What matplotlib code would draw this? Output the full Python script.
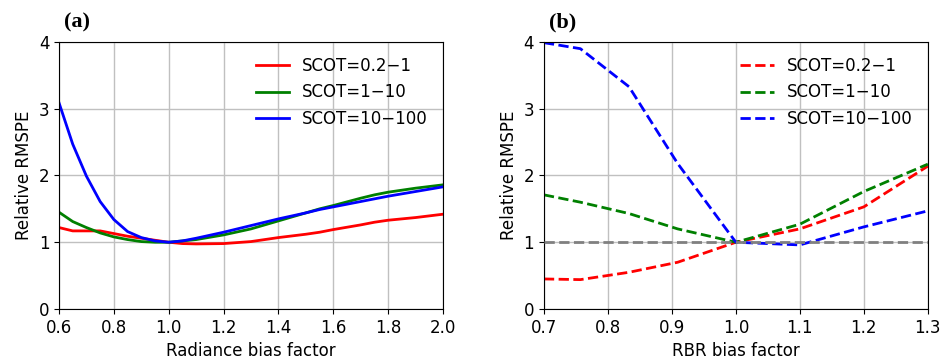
import matplotlib.pyplot as plt

# Panel (a): radiance bias factor
rad_bias = [0.6, 0.65, 0.7, 0.75, 0.8, 0.85, 0.9, 0.95, 1.0, 1.05, 1.1,
            1.2, 1.3, 1.4, 1.5, 1.55, 1.6, 1.7, 1.75, 1.8, 1.9, 2.0]
rad_low = [1.22, 1.17, 1.17, 1.17, 1.13, 1.09, 1.06, 1.03, 1.0, 0.98, 0.975,
           0.98, 1.01, 1.07, 1.12, 1.15, 1.19, 1.26, 1.30, 1.33, 1.37, 1.42]
rad_mid = [1.45, 1.31, 1.22, 1.14, 1.08, 1.04, 1.01, 1.0, 1.0, 1.02, 1.04,
           1.11, 1.20, 1.32, 1.44, 1.50, 1.55, 1.66, 1.71, 1.75, 1.81, 1.86]
rad_high = [3.09, 2.47, 1.99, 1.61, 1.34, 1.16, 1.07, 1.02, 1.0, 1.02, 1.06,
            1.15, 1.25, 1.35, 1.44, 1.49, 1.53, 1.61, 1.65, 1.69, 1.76, 1.83]

# Panel (b): RBR bias factor
rbr_bias = [0.7, 0.757, 0.833, 0.909, 1.0, 1.1, 1.2, 1.3]
rbr_low = [0.45, 0.44, 0.55, 0.70, 1.0, 1.20, 1.53, 2.14]
rbr_mid = [1.71, 1.60, 1.43, 1.20, 1.0, 1.27, 1.76, 2.17]
rbr_high = [3.99, 3.90, 3.33, 2.18, 1.0, 0.96, 1.23, 1.47]

labels = ['SCOT=0.2\u22121', 'SCOT=1\u221210', 'SCOT=10\u2212100']
colors = ['red', 'green', 'blue']

fig = plt.figure(figsize=(9.41, 3.59), dpi=100)
ax1 = fig.add_axes([0.0627, 0.1393, 0.4081, 0.7437])
ax2 = fig.add_axes([0.578, 0.1393, 0.408, 0.7437])

for ys, c, lab in zip([rad_low, rad_mid, rad_high], colors, labels):
    ax1.plot(rad_bias, ys, color=c, lw=2, label=lab)

ax2.axhline(1.0, color='gray', lw=2, ls='--', zorder=3)
for ys, c, lab in zip([rbr_low, rbr_mid, rbr_high], colors, labels):
    ax2.plot(rbr_bias, ys, color=c, lw=2, ls='--', label=lab)

ax1.set_xlim(0.6, 2.0)
ax1.set_xticks([0.6, 0.8, 1.0, 1.2, 1.4, 1.6, 1.8, 2.0])
ax1.set_xlabel('Radiance bias factor', fontsize=12, labelpad=4)
ax2.set_xlim(0.7, 1.3)
ax2.set_xticks([0.7, 0.8, 0.9, 1.0, 1.1, 1.2, 1.3])
ax2.set_xlabel('RBR bias factor', fontsize=12, labelpad=4)

for ax, tag in zip([ax1, ax2], ['(a)', '(b)']):
    ax.set_ylim(0, 4)
    ax.set_yticks([0, 1, 2, 3, 4])
    ax.set_ylabel('Relative RMSPE', fontsize=12)
    ax.tick_params(labelsize=12)
    ax.grid(True, color='#c0c0c0', lw=1)
    ax.set_axisbelow(True)
    ax.legend(loc='upper right', frameon=False, fontsize=12)
    ax.text(0.013, 1.035, tag, transform=ax.transAxes, fontsize=16,
            fontweight='bold', family='Liberation Serif', va='bottom')

fig.savefig('out.png', dpi=100)
